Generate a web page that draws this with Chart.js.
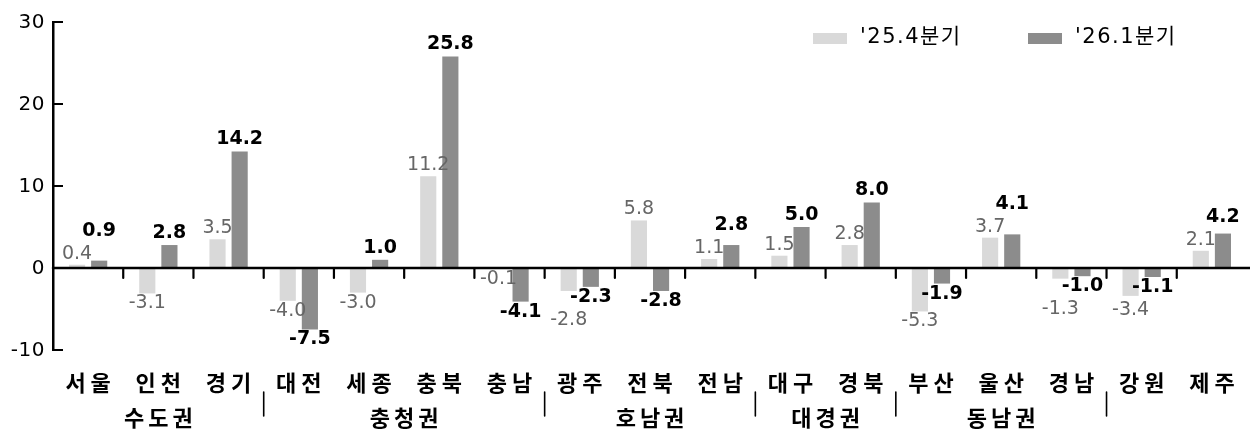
<!DOCTYPE html>
<html>
<head>
<meta charset="utf-8">
<script src="https://cdn.jsdelivr.net/npm/chart.js@4.4.1/dist/chart.umd.min.js"></script>
<style>
html, body { margin: 0; padding: 0; background: #fff; }
#wrap { width: 1250px; height: 430px; }
</style>
</head>
<body>
<div id="wrap"><canvas id="regionChart"></canvas></div>
<script>
const regions = ['서울', '인천', '경기', '대전', '세종', '충북', '충남', '광주', '전북', '전남', '대구', '경북', '부산', '울산', '경남', '강원', '제주'];
const q4of25 = [0.4, -3.1, 3.5, -4.0, -3.0, 11.2, -0.1, -2.8, 5.8, 1.1, 1.5, 2.8, -5.3, 3.7, -1.3, -3.4, 2.1];
const q1of26 = [0.9, 2.8, 14.2, -7.5, 1.0, 25.8, -4.1, -2.3, -2.8, 2.8, 5.0, 8.0, -1.9, 4.1, -1.0, -1.1, 4.2];
const seriesNames = ["'25.4분기", "'26.1분기"];
const groupNames = ['수도권', '충청권', '호남권', '대경권', '동남권'];
const groupFirst = [0, 3, 7, 10, 12];
const groupLast = [2, 6, 9, 11, 14];
const yTicks = [-10, 0, 10, 20, 30];

const NUM_FONT = "'DejaVu Sans', 'Noto Sans CJK KR', sans-serif";
const KR_FONT = "'Noto Sans CJK KR', sans-serif";
const LIGHT = '#d9d9d9';
const DARK = '#8c8c8c';

function drawText(ctx, text, x, y, font, color, spacing, align = 'center') {
    ctx.save();
    ctx.font = font;
    ctx.fillStyle = color;
    ctx.textAlign = align;
    ctx.textBaseline = 'middle';
    ctx.letterSpacing = spacing + 'px';
    ctx.fillText(text, align === 'center' ? x + spacing / 2 : x, y);
    ctx.restore();
}

const decorations = {
    id: 'decorations',
    afterDraw(chart) {
        const { ctx, chartArea, scales } = chart;
        const xs = scales.x, ys = scales.y;
        const zeroY = ys.getPixelForValue(0);
        const step = xs.getPixelForValue(1) - xs.getPixelForValue(0);
        const axisX = Math.round(chartArea.left);

        ctx.save();
        ctx.strokeStyle = '#000';

        // y axis ticks (inward) and labels
        ctx.lineWidth = 2;
        yTicks.forEach(v => {
            const ty = ys.getPixelForValue(v);
            ctx.beginPath();
            ctx.moveTo(axisX, ty);
            ctx.lineTo(axisX + 10, ty);
            ctx.stroke();
            drawText(ctx, String(v), axisX - 8, ty + 1, '20px ' + NUM_FONT, '#000', 0.5, 'right');
        });

        // zero line and category boundary ticks
        ctx.lineCap = 'round';
        ctx.lineWidth = 2.5;
        ctx.beginPath();
        ctx.moveTo(axisX, zeroY);
        ctx.lineTo(chart.width, zeroY);
        ctx.stroke();
        ctx.lineWidth = 2.2;
        for (let i = 1; i < regions.length; i++) {
            const bx = xs.getPixelForValue(i) - step / 2;
            ctx.beginPath();
            ctx.moveTo(bx, zeroY);
            ctx.lineTo(bx, zeroY + 10);
            ctx.stroke();
        }

        // group separators
        ctx.lineWidth = 1.6;
        groupLast.forEach(g => {
            const sx = xs.getPixelForValue(g) + step / 2;
            ctx.beginPath();
            ctx.moveTo(sx, 392);
            ctx.lineTo(sx, 416);
            ctx.stroke();
        });
        ctx.restore();

        // value labels
        const lightBars = chart.getDatasetMeta(0).data;
        const darkBars = chart.getDatasetMeta(1).data;
        for (let i = 0; i < regions.length; i++) {
            const a = q4of25[i], b = q1of26[i];
            const la = lightBars[i], lb = darkBars[i];
            let ya = a >= 0 ? la.y - 11 : la.y + 10;
            let yb = b >= 0 ? lb.y - 12 : lb.y + 10;
            if ((a >= 0) === (b >= 0) && Math.abs(ya - yb) < 23) {
                const dir = a >= 0 ? -1 : 1;
                if (Math.abs(b) >= Math.abs(a)) yb = ya + dir * 23;
                else ya = yb + dir * 23;
            }
            drawText(ctx, a.toFixed(1), la.x, ya, '19px ' + NUM_FONT, '#666', 0);
            drawText(ctx, b.toFixed(1), lb.x, yb, 'bold 19px ' + NUM_FONT, '#000', 0);
        }

        // category and group labels
        regions.forEach((r, i) => {
            drawText(ctx, r, xs.getPixelForValue(i), 383, 'bold 22px ' + KR_FONT, '#000', 5);
        });
        groupNames.forEach((g, k) => {
            const cx = (xs.getPixelForValue(groupFirst[k]) + xs.getPixelForValue(groupLast[k])) / 2;
            drawText(ctx, g, cx, 418, 'bold 22px ' + KR_FONT, '#000', 4);
        });

        // legend
        const legendX = [813, 1028];
        chart.data.datasets.forEach((ds, k) => {
            ctx.save();
            ctx.fillStyle = ds.backgroundColor;
            ctx.fillRect(legendX[k], 33, 34, 11);
            ctx.restore();
            drawText(ctx, ds.label, legendX[k] + 47, 38, '21px ' + NUM_FONT, '#000', 1.5, 'left');
        });
    }
};

new Chart(document.getElementById('regionChart').getContext('2d'), {
    type: 'bar',
    data: {
        labels: regions,
        datasets: [
            { label: seriesNames[0], data: q4of25, backgroundColor: LIGHT },
            { label: seriesNames[1], data: q1of26, backgroundColor: DARK }
        ]
    },
    options: {
        responsive: true,
        maintainAspectRatio: false,
        animation: false,
        categoryPercentage: 0.63,
        barPercentage: 0.73,
        layout: { padding: { top: 22, right: 3, bottom: 80, left: 0 } },
        plugins: { legend: { display: false }, tooltip: { enabled: false } },
        scales: {
            x: { display: false },
            y: {
                min: -10,
                max: 30,
                afterFit(scale) { scale.width = 53; },
                afterBuildTicks(scale) { scale.ticks = yTicks.map(v => ({ value: v })); },
                border: { display: true, color: '#000', width: 2.5 },
                grid: { display: true, drawOnChartArea: false, drawTicks: false, color: 'rgba(0,0,0,0)' },
                ticks: { display: false }
            }
        }
    },
    plugins: [decorations]
});
</script>
</body>
</html>
